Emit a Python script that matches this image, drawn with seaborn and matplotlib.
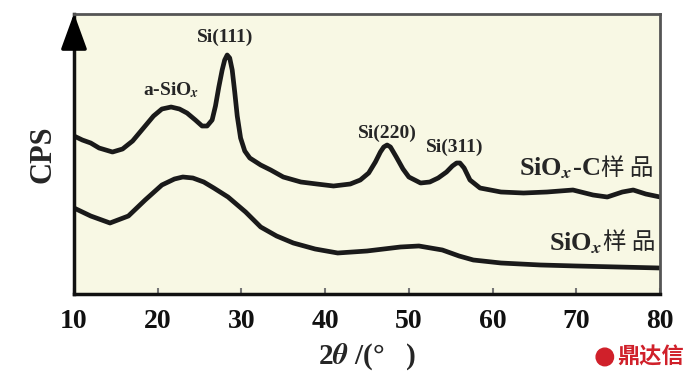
import matplotlib
matplotlib.use("Agg")
import matplotlib.pyplot as plt
import seaborn as sns
import pandas as pd
from matplotlib.patches import Ellipse

# XRD patterns (2theta in degrees, intensity in arbitrary units)
two_theta_c = [10, 11, 12, 13, 14.6, 15.8, 17, 18.3, 19.5, 20.5, 21.6, 22.6, 23.5, 24.5, 25.3,
               25.9, 26.5, 26.9, 27.3, 27.7, 28.0, 28.3, 28.6, 28.9, 29.2, 29.5, 29.9, 30.4,
               31.0, 32.3, 33.5, 35, 37.1, 39, 41,
               43, 44.2, 45.2, 46, 46.6, 47.0, 47.4, 47.8, 48.5, 49.3, 50, 51.4, 52.5, 53.5, 54.5,
               55.2, 55.7, 56.1, 56.6, 57.3, 58.5, 61, 63.7, 66.5, 69.6, 72, 73.7, 75.5, 76.8,
               78.3, 80]
cps_c = [158, 154, 151, 146, 142, 145, 153, 166, 178, 185, 187, 185, 181, 174, 168,
         168, 174, 188, 207, 224, 234, 239, 236, 224, 202, 178, 156, 143,
         136, 129, 124, 117, 112, 110, 108,
         110, 114, 121, 132, 142, 147, 149, 147, 137, 125, 117, 111, 112, 116, 122,
         128, 131, 131, 126, 114, 106, 102, 101, 102, 104, 99, 97, 102, 104,
         100, 97]

two_theta_s = [10, 12, 14.3, 16.5, 18.5, 20.5, 22.0, 23.0, 24.2, 25.5, 26.7, 28.4, 30.5, 32.3,
               34.2, 36.2, 38.8, 41.5, 45, 49, 51.2, 54, 56, 57.7, 61, 65.7, 70, 75, 80]
cps_s = [86, 78, 71, 78, 94, 109, 115, 117, 116, 112, 106, 97, 82, 67,
         58, 51, 45, 41, 43, 47, 48, 44, 38, 34, 31, 29, 28, 27, 26]

x_ticks = [10, 20, 30, 40, 50, 60, 70, 80]

df_c = pd.DataFrame({"2theta": two_theta_c, "cps": cps_c})
df_s = pd.DataFrame({"2theta": two_theta_s, "cps": cps_s})

sns.set_style("ticks")
plt.rcParams["font.family"] = ["Liberation Serif", "Noto Sans CJK SC"]
plt.rcParams["font.weight"] = "bold"
plt.rcParams["mathtext.fontset"] = "stix"

fig = plt.figure(figsize=(6.96, 3.83), dpi=100)
ax = fig.add_axes([0.1063, 0.2324, 0.842, 0.731])
ax.set_facecolor("#f8f8e4")

sns.lineplot(data=df_c, x="2theta", y="cps", ax=ax, color="#1a1a1a", lw=3.4)
sns.lineplot(data=df_s, x="2theta", y="cps", ax=ax, color="#1a1a1a", lw=3.4)

ax.set_xlim(10, 80)
ax.set_ylim(0, 280)
ax.set_xticks(x_ticks)
ax.set_yticks([])
ax.tick_params(axis="x", direction="in", length=4, width=1.5, color="#777777",
               labelsize=20, pad=11, labelcolor="#111111")
for lab in ax.get_xticklabels():
    lab.set_fontweight("bold")

for side in ["left", "bottom"]:
    ax.spines[side].set_color("#111111")
    ax.spines[side].set_linewidth(2.5)
for side in ["top", "right"]:
    ax.spines[side].set_color("#555555")
    ax.spines[side].set_linewidth(2.0)

# arrow on the y axis
ax.annotate("", xy=(0, 1.012), xytext=(0, 0.88), xycoords="axes fraction",
            arrowprops=dict(arrowstyle="-|>,head_length=0.55,head_width=0.2",
                            mutation_scale=40, color="black", lw=2.5),
            annotation_clip=False)

ax.set_xlabel(r"2$\boldsymbol{\theta}$ /(°   )", fontsize=21, fontweight="bold", labelpad=5)
ax.set_ylabel("CPS", fontsize=22, fontweight="bold", labelpad=12)

# peak labels
ax.text(28.0, 257, "Si(111)", fontsize=14, fontweight="bold", ha="center", va="center")
ax.text(21.6, 204, r"a-SiO$_{\mathit{x}}$", fontsize=14, fontweight="bold", ha="center", va="center")
ax.text(47.4, 161, "Si(220)", fontsize=14, fontweight="bold", ha="center", va="center")
ax.text(55.5, 147, "Si(311)", fontsize=14, fontweight="bold", ha="center", va="center")

# sample labels
ax.text(72.9, 126, r"SiO$_{\mathit{x}}$-C", fontsize=19, fontweight="bold", ha="right", va="center")
ax.text(72.9, 126, "样 品", fontsize=17, fontweight="normal", ha="left", va="center",
        family="Noto Sans CJK SC")
ax.text(73.2, 51, r"SiO$_{\mathit{x}}$", fontsize=19, fontweight="bold", ha="right", va="center")
ax.text(73.2, 51, "样 品", fontsize=17, fontweight="normal", ha="left", va="center",
        family="Noto Sans CJK SC")

# watermark
fig.text(0.887, 0.068, "鼎达信", fontsize=16, fontweight="bold", color="#d0202a",
         family="Noto Sans CJK SC", ha="left", va="center")
fig.add_artist(Ellipse((0.869, 0.068), 0.025, 0.046, transform=fig.transFigure,
                       color="#d0202a"))

fig.savefig("out.png", dpi=100)
